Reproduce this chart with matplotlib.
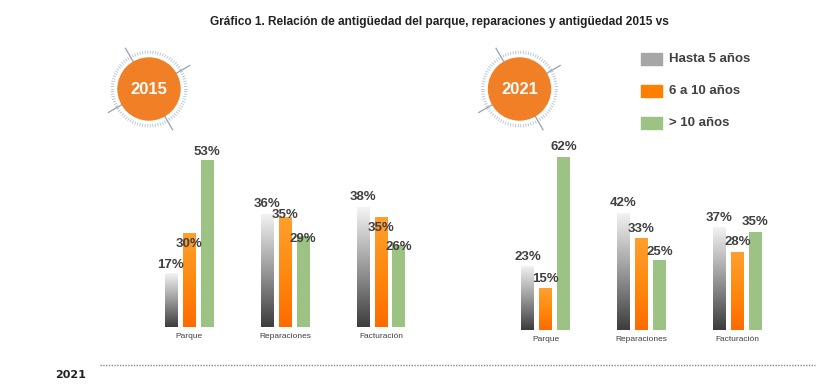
import numpy as np
import matplotlib
matplotlib.use("Agg")
import matplotlib.pyplot as plt
from matplotlib.colors import LinearSegmentedColormap

plt.rcParams['font.family'] = ['Liberation Sans', 'DejaVu Sans']

# data
categories = ["Parque", "Reparaciones", "Facturación"]
series = ["Hasta 5 años", "6 a 10 años", "> 10 años"]
vals_2015 = [[17, 36, 38], [30, 35, 35], [53, 29, 26]]
vals_2021 = [[23, 42, 37], [15, 33, 28], [62, 25, 35]]
# label vertical offsets (px), hand placed in the source slide
lab_off_2015 = [[8, 10, 10], [-11, 2, -11], [8, -3, -2]]
lab_off_2021 = [[9, 10, 9], [9, 9, 10], [10, 8, 10]]
title = "Gráfico 1. Relación de antigüedad del parque, reparaciones y antigüedad 2015 vs"

W, H = 817, 390
fig = plt.figure(figsize=(W / 100, H / 100), dpi=100)

dark = "#404040"
gray_cm = LinearSegmentedColormap.from_list("g", ["#3c3c3c", "#9a9a9a", "#f4f4f4"])
orange_cm = LinearSegmentedColormap.from_list("o", ["#ff6a00", "#ff8a10", "#ffa030"])
green = "#9dc384"


def px_axes(x0, x1, ytop, ybot):
    return fig.add_axes([x0 / W, 1 - ybot / H, (x1 - x0) / W, (ybot - ytop) / H])


def panel(ax, vals, offs, ppp, g0, x0, x1, ytop, ybot):
    step = 96.0
    ax.set_xlim((x0 - g0) / step, (x1 - g0) / step)
    ax.set_ylim(0, (ybot - ytop) / ppp)
    x = np.arange(len(categories))
    bw, off = 13 / step, 18 / step
    for i, s in enumerate(series):
        xs = x + (i - 1) * off
        if i == 2:
            bars = ax.bar(xs, vals[i], bw, color=green, zorder=2)
        else:
            bars = ax.bar(xs, vals[i], bw, color="none", zorder=2)
            cm = gray_cm if i == 0 else orange_cm
            grad = np.linspace(0, 1, 256).reshape(-1, 1)
            for b in bars:
                bx, by = b.get_x(), b.get_height()
                im = ax.imshow(grad, cmap=cm, origin="lower", aspect="auto",
                               extent=[bx, bx + bw, 0, by], zorder=1)
                im.set_clip_path(b)
        for xi, v, o in zip(xs, vals[i], offs[i]):
            ax.annotate(f"{v}%", (xi, v), xytext=(0, o * 0.72), textcoords="offset points",
                        ha="center", va="center", fontsize=9.5, fontweight="bold",
                        color=dark, zorder=3)
    ax.set_xticks(x)
    ax.set_xticklabels(categories, fontsize=6, color=dark)
    ax.tick_params(length=0, pad=4)
    ax.set_yticks([])
    for sp in ax.spines.values():
        sp.set_visible(False)
    ax.patch.set_visible(False)


ax1 = px_axes(130, 440, 140, 327)
panel(ax1, vals_2015, lab_off_2015, 3.15, 189, 130, 440, 140, 327)
ax2 = px_axes(490, 800, 140, 330)
panel(ax2, vals_2021, lab_off_2021, 2.79, 545.5, 490, 800, 140, 330)

# overlay in pixel coordinates for decorations
ov = fig.add_axes([0, 0, 1, 1], zorder=-1)
ov.set_xlim(0, W)
ov.set_ylim(H, 0)
ov.axis("off")

fig.text(439 / W, 1 - 22 / H, title, ha="center", va="center", fontsize=8.6,
         fontweight="bold", color="#222222")

for cx, cy, yr in [(149, 89, "2015"), (519.5, 89, "2021")]:
    ov.add_patch(plt.Circle((cx, cy), 31, color="#f07f26", zorder=2))
    ang = np.deg2rad(np.arange(0, 360, 4))
    for a in ang:
        ov.plot([cx + 35.5 * np.cos(a), cx + 38 * np.cos(a)],
                [cy - 35.5 * np.sin(a), cy - 38 * np.sin(a)],
                color="#b4c2d0", lw=0.6, zorder=1)
    for a in np.deg2rad([30, 120, 210, 300]):
        ov.plot([cx + 30 * np.cos(a), cx + 47 * np.cos(a)],
                [cy - 30 * np.sin(a), cy - 47 * np.sin(a)],
                color="#94a3b2", lw=0.9, zorder=1)
    ov.text(cx, cy + 1, yr, ha="center", va="center", color="white",
            fontsize=12, fontweight="bold", zorder=3)

# legend
leg_cols = ["#a6a6a6", "#ff8000", green]
for j, (s, c) in enumerate(zip(series, leg_cols)):
    y = 59 + 32 * j
    ov.add_patch(plt.Rectangle((641, y - 6), 21, 12, color=c))
    ov.text(669, y, s, ha="left", va="center", fontsize=9.5, fontweight="bold", color=dark)

# bottom line and year
ov.plot([100, 815], [365, 365], color="#888888", lw=1, ls=(0, (1, 1)))
ov.text(55, 375, "2021", ha="left", va="center", fontsize=8, fontweight="bold",
        color="#222222", family=["Liberation Sans Narrow", "DejaVu Sans"])

fig.savefig("out.png", dpi=100)
